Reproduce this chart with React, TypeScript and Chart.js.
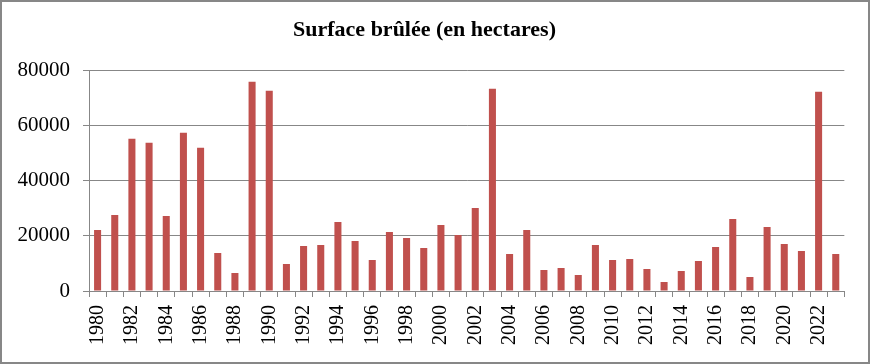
import React, { useEffect, useRef } from "react";
import { Chart, registerables } from "chart.js";

Chart.register(...registerables);

const years: string[] = [
  "1980", "1981", "1982", "1983", "1984", "1985", "1986", "1987", "1988", "1989",
  "1990", "1991", "1992", "1993", "1994", "1995", "1996", "1997", "1998", "1999",
  "2000", "2001", "2002", "2003", "2004", "2005", "2006", "2007", "2008", "2009",
  "2010", "2011", "2012", "2013", "2014", "2015", "2016", "2017", "2018", "2019",
  "2020", "2021", "2022", "2023",
];

const burnedArea: number[] = [
  22100, 27550, 55080, 53640, 27180, 57260, 51830, 13770, 6520, 75740,
  72480, 9790, 16310, 16670, 25010, 18120, 11230, 21380, 19210, 15580,
  23920, 20290, 30080, 73200, 13410, 22100, 7610, 8340, 5800, 16670,
  11230, 11600, 7970, 3260, 7250, 10870, 15950, 26090, 5070, 23190,
  17030, 14500, 72120, 13410,
];

const yTicks = { min: 0, max: 80000, step: 20000 };
const titleText = "Surface brûlée (en hectares)";

export default function App() {
  const ref = useRef<HTMLCanvasElement | null>(null);

  useEffect(() => {
    if (!ref.current) return;
    const gray = "#878787";
    const font = "'Liberation Serif', 'Times New Roman', serif";
    const chart = new Chart(ref.current, {
      type: "bar",
      data: {
        labels: years,
        datasets: [
          {
            data: burnedArea,
            backgroundColor: "#C0504D",
            borderWidth: 0,
            categoryPercentage: 1,
            barPercentage: 0.41,
          },
        ],
      },
      options: {
        animation: false,
        responsive: false,
        maintainAspectRatio: false,
        layout: { padding: { left: 0, right: 21, top: 0, bottom: 0 } },
        plugins: {
          legend: { display: false },
          tooltip: { enabled: false },
          title: {
            display: true,
            text: titleText,
            color: "#000",
            font: { family: font, size: 22, weight: "bold", lineHeight: 1.2 },
            padding: { top: 15.5, bottom: 26.1 },
          },
        },
        scales: {
          x: {
            grid: {
              display: true,
              offset: true,
              drawOnChartArea: false,
              drawTicks: true,
              tickLength: 6,
              color: gray,
              lineWidth: 1,
            },
            border: { display: true, color: gray, width: 1 },
            ticks: {
              autoSkip: false,
              maxRotation: 90,
              minRotation: 90,
              padding: 8,
              color: "#000",
              font: { family: font, size: 20 },
              callback: (_v: any, i: number) => (i % 2 === 0 ? years[i] : ""),
            },
            afterFit: (s: any) => {
              s.height = 71;
            },
          },
          y: {
            min: yTicks.min,
            max: yTicks.max,
            grid: {
              color: gray,
              lineWidth: 1,
              drawTicks: true,
              tickLength: 6,
            },
            border: { display: true, color: gray, width: 1 },
            ticks: {
              stepSize: yTicks.step,
              padding: 13,
              color: "#000",
              font: { family: font, size: 21 },
              callback: (v: any) => String(v),
            },
            afterFit: (s: any) => {
              s.width = 87;
            },
          },
        },
      },
    });
    return () => chart.destroy();
  }, []);

  return (
    <div
      style={{
        position: "absolute",
        left: 0,
        top: 0,
        width: 870,
        height: 364,
        boxSizing: "border-box",
        border: "2px solid #878787",
        background: "#fff",
      }}
    >
      <canvas ref={ref} width={866} height={360} style={{ display: "block" }} />
    </div>
  );
}
